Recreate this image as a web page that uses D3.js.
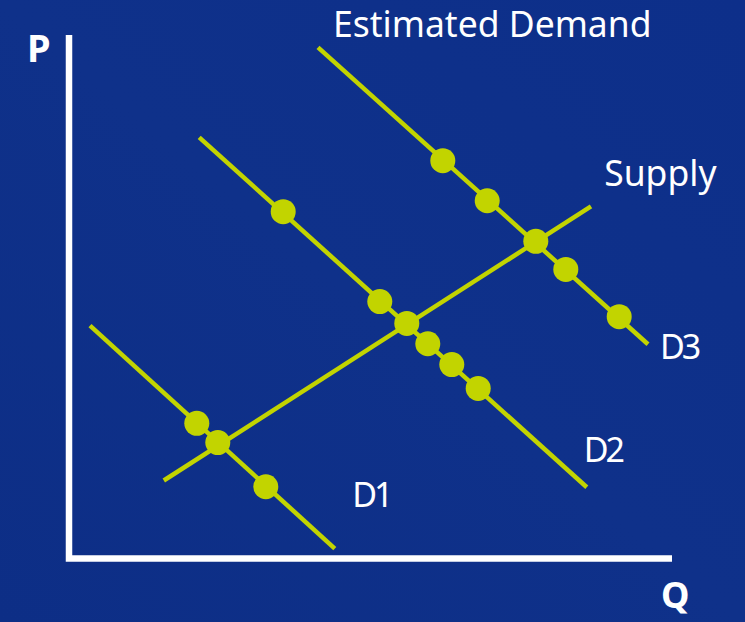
<!DOCTYPE html>
<html>
<head>
<meta charset="utf-8">
<script src="https://cdn.jsdelivr.net/npm/d3@7"></script>
<style>
  html, body { margin: 0; padding: 0; background: #0e2f88; }
  svg { display: block; }
  text { font-family: "Noto Sans", "Open Sans", sans-serif; fill: #ffffff; }
</style>
</head>
<body>
<script>
// Quantity (Q) and price (P) are on a 0–100 scale.
const demandCurves = [
  { name: "D1", from: [3.5, 44.8], to: [44.3, 1.9] },
  { name: "D2", from: [21.7, 81.0], to: [86.3, 13.7] },
  { name: "D3", from: [41.5, 98.3], to: [96.5, 41.2] }
];
const supplyCurve = { name: "Supply", from: [15.8, 15.0], to: [87.0, 67.7] };

const pointsD1 = [[21.3, 26.0], [24.8, 22.3], [32.8, 13.8]];
const pointsD2 = [[35.7, 66.7], [51.8, 49.4], [56.3, 45.2], [59.8, 41.3], [63.8, 37.3], [68.2, 32.7]];
const pointsD3 = [[62.3, 76.5], [69.7, 68.8], [77.8, 61.0], [82.8, 55.6], [91.7, 46.5]];

const curveLabels = [
  { text: "Estimated Demand", q: 44.0, p: 100.2, tight: false },
  { text: "Supply", q: 89.2, p: 71.7, tight: false },
  { text: "D3", q: 98.5, p: 38.3, tight: true },
  { text: "D2", q: 85.8, p: 18.5, tight: true },
  { text: "D1", q: 47.2, p: 10.0, tight: true }
];

const axisLabels = { y: "P", x: "Q" };

const width = 745, height = 622;
const lineColor = "#c2d400";

const x = d3.scaleLinear().domain([0, 100]).range([69, 669]);
const y = d3.scaleLinear().domain([0, 100]).range([558.5, 38.5]);

const svg = d3.select("body").append("svg")
  .attr("width", width).attr("height", height);

// background with a faint diagonal sheen
const defs = svg.append("defs");
const grad = defs.append("linearGradient").attr("id", "bg")
  .attr("x1", "0").attr("y1", "1").attr("x2", "1").attr("y2", "0");
grad.append("stop").attr("offset", "0%").attr("stop-color", "#0d2e86");
grad.append("stop").attr("offset", "50%").attr("stop-color", "#0f318a");
grad.append("stop").attr("offset", "100%").attr("stop-color", "#0d2f8a");
svg.append("rect").attr("width", width).attr("height", height).attr("fill", "url(#bg)");

// axes
svg.append("path")
  .attr("d", d3.line()([[x(0), 35], [x(0), y(0)], [672, y(0)]]))
  .attr("fill", "none")
  .attr("stroke", "#ffffff")
  .attr("stroke-width", 6.5)
  .attr("stroke-linejoin", "miter");

svg.append("text").attr("x", 27).attr("y", 62)
  .attr("font-size", 38).attr("font-weight", 700).text(axisLabels.y);
svg.append("text").attr("x", 661).attr("y", 608)
  .attr("font-size", 36).attr("font-weight", 700).text(axisLabels.x);

// curves
const lines = svg.append("g")
  .attr("stroke", lineColor).attr("stroke-width", 4.5).attr("stroke-linecap", "butt");
[...demandCurves, supplyCurve].forEach(c => {
  lines.append("line")
    .attr("x1", x(c.from[0])).attr("y1", y(c.from[1]))
    .attr("x2", x(c.to[0])).attr("y2", y(c.to[1]));
});

// observation points
const pts = svg.append("g").attr("fill", lineColor);
[pointsD1, pointsD2, pointsD3].forEach(set => {
  pts.selectAll(null).data(set).enter().append("circle")
    .attr("cx", d => x(d[0])).attr("cy", d => y(d[1])).attr("r", 12.5);
});

// curve labels
svg.append("g").selectAll("text").data(curveLabels).enter().append("text")
  .attr("x", d => x(d.q)).attr("y", d => y(d.p))
  .attr("font-size", d => d.tight ? 34 : 35.5)
  .attr("letter-spacing", d => d.tight ? -3 : 0)
  .text(d => d.text);
</script>
</body>
</html>
